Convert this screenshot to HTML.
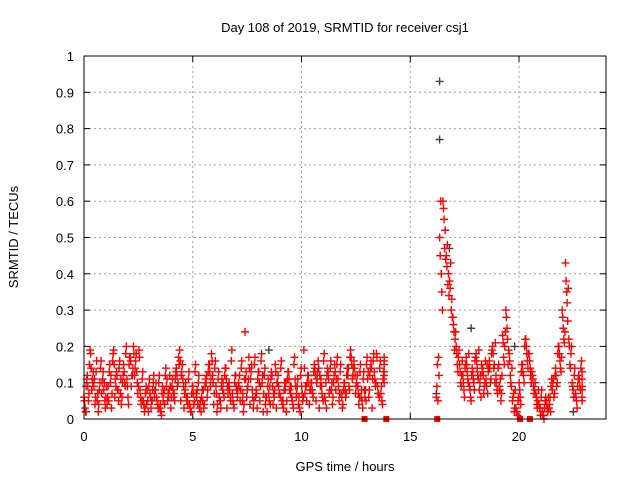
<!DOCTYPE html>
<html><head><meta charset="utf-8"><style>
html,body{margin:0;padding:0;background:#fff;}
svg{display:block;font-family:"Liberation Sans",sans-serif;}
</style></head><body>
<svg id="chart" width="640" height="480" viewBox="0 0 640 480">
<rect x="0" y="0" width="640" height="480" fill="#fff"/>
<text x="345" y="32" font-size="13" text-anchor="middle">Day 108 of 2019, SRMTID for receiver csj1</text>
<text transform="translate(18,237) rotate(-90)" font-size="13" text-anchor="middle">SRMTID / TECUs</text>
<text x="345" y="471" font-size="13" text-anchor="middle">GPS time / hours</text>
<g id="grid"></g>
<g id="ticks"></g>
<g id="marks"></g>
<rect x="84" y="56" width="522" height="363" fill="none" stroke="#000" stroke-width="1"/>
</svg>
<script>
const xTicks=[0,5,10,15,20];
const yTicks=[0,0.1,0.2,0.3,0.4,0.5,0.6,0.7,0.8,0.9,1];
const yTickLabels=["0","0.1","0.2","0.3","0.4","0.5","0.6","0.7","0.8","0.9","1"];
const seg1=[0,13.8];
const seg2=[16.2,22.9];
const redA1=[6,12,18,9,5,14,8,4,10,19,12,7,15,11,17,20,13,8,5,4,7,10,6,3,5,9,12,8,14,19,11,6,4,9,7,3,5,10,15,12,9,6,8,14,10,7,12,9,5,11,17,8,6,13,10,4,7,12,15,9,5,8,13,6,11,4,9,7,12,10,14,16,9,6,13,8,15,11,7,10,12,17,14,9,6,8,11,16,13,9,7,15];
const redB1=[3,5,8,4,2,7,5,9,3,6,8,4,10,6,9,12,7,4,2,5,3,6,4,2,8,5,3,7,9,5,3,6,2,4,8,5,3,6,9,4,2,5,7,3,6,4,8,5,2,6,4,3,7,5,2,6,9,4,3,7,5,2,8,4,6,3,5,9,4,7,5,3,6,10,7,4,8,5,3,6,9,11,7,4,5,8,6,3,9,7,5,10];
const redC1=[9,15,10,13,8,11,6,13,16,9,14,10,18,15,12,16,19,11,7,9,5,8,10,7,12,6,9,11,17,13,8,11,7,13,10,6,9,13,18,14,11,9,12,7,16,10,8,14,11,9,13,15,11,16,12,9,11,6,10,14,8,11,7,15,9,12,19,10,8,13,11,9,16,12,14,10,15,13,8,12,17,14,10,13,11,15,12,16,18,14,11,17];
const redD1=[5,9,14,11,7,16,10,6,12,15,8,11,13,9,16,18,10,6,4,8,6,12,5,4,7,11,9,6,12,16,9,5,3,7,6,4,8,12,13,10,7,5,10,11,8,5,9,12,7,13,14,6,8,10,12,6,5,9,13,7,4,10,11,5,9,6,7,9,10,8,12,14,7,5,11,10,13,9,6,8,14,15,12,7,8,6,13,14,11,7,9,13];
const redE1=[2,7,11,6,4,10,3,5,7,11,5,6,9,4,12,14,9,5,3,2,5,8,3,1,4,7,6,5,10,12,7,4,2,5,4,2,4,8,11,7,4,3,6,9,5,3,6,8,4,8,11,5,3,9,7,2,4,7,10,6,3,5,9,3,7,2,6,5,8,6,10,12,5,3,8,6,11,7,4,7,8,12,9,6,3,5,8,11,10,6,4,12];
const redF1=[11,19,13,16,10,13,9,15,18,13,16,12,20,17,14,18,17,13,9,11,8,10,12,9,14,8,11,13,15,15,10,13,9,15,12,8,11,15,16,16,13,11,14,9,19,12,10,16,24,11,15,17,13,18,14,11,13,8,12,16,10,13,9,17,11,14,14,12,10,15,13,11,18,14,16,12,17,15,10,14,19,16,12,15,13,17,14,18,17,16,13,16];
const redA2=[6,50,60,45,38,28,20,15,12,17,9,13,18,8,14,11,16,20,12,9,23,30,18,5,3,10,15,22,18,12,7,4,2,6,3,8,14,20,30,43,22,10,7,12,9];
const redB2=[15,60,55,48,43,24,15,10,8,13,6,10,14,12,7,15,10,14,8,11,17,25,12,7,2,6,12,18,14,9,4,3,1,4,6,11,9,16,25,35,15,8,5,9,6];
const redC2=[17,35,52,40,33,22,17,12,14,10,12,16,11,15,10,13,18,10,14,7,20,15,9,3,5,13,20,14,10,8,5,6,3,2,9,7,18,13,21,27,18,12,9,14,11];
const redD2=[9,45,58,42,36,26,18,13,10,15,8,11,16,10,12,9,14,18,10,8,21,28,16,6,2,8,13,20,16,11,6,3,1,5,4,10,12,18,28,38,20,9,6,11,8];
const redE2=[5,40,47,37,30,19,13,9,6,11,5,8,12,6,9,7,11,15,7,5,15,22,10,2,1,4,10,16,12,7,3,1,0,3,2,6,10,14,22,32,14,6,3,8,5];
const redF2=[12,30,44,34,28,24,19,16,15,18,14,17,19,13,16,14,19,21,15,12,24,19,14,8,6,15,22,18,13,10,8,8,5,6,11,12,20,17,24,36,20,14,11,16,13];
const grayT=[0.1,8.5,16.2,16.35,16.35,16.8,17.8,19.8,22.5];
const grayV=[0.02,0.19,0.07,0.93,0.77,0.47,0.25,0.2,0.02];
const zeroT=[12.9,13.9,16.24,20.05,20.5];
const NS='http://www.w3.org/2000/svg';
const X=t=>84+t*(522/24);
const Y=v=>419-v*363;
const grid=document.getElementById('grid'),ticks=document.getElementById('ticks'),marks=document.getElementById('marks');
function mk(tag,attrs,parent){const e=document.createElementNS(NS,tag);for(const k in attrs)e.setAttribute(k,attrs[k]);parent.appendChild(e);return e;}
yTicks.forEach((v,i)=>{
  if(i>0&&i<yTicks.length-1){const g=mk('line',{x1:84,x2:606,y1:Y(v),y2:Y(v),stroke:'#a0a0a0','stroke-dasharray':'2,3'},grid);
  
  }
  mk('line',{x1:84,x2:90,y1:Y(v),y2:Y(v),stroke:'#000'},ticks);
  mk('line',{x1:600,x2:606,y1:Y(v),y2:Y(v),stroke:'#000'},ticks);
  const t=mk('text',{x:74,y:Y(v)+5,'font-size':13,'text-anchor':'end'},ticks);t.textContent=yTickLabels[i];
  
  
});
xTicks.forEach(v=>{
  if(v>0){const g=mk('line',{x1:X(v),x2:X(v),y1:56,y2:419,stroke:'#a0a0a0','stroke-dasharray':'2,3'},grid);
  
  }
  mk('line',{x1:X(v),x2:X(v),y1:419,y2:413,stroke:'#000'},ticks);
  mk('line',{x1:X(v),x2:X(v),y1:56,y2:62,stroke:'#000'},ticks);
  const t=mk('text',{x:X(v),y:441,'font-size':13,'text-anchor':'middle'},ticks);t.textContent=String(v);
  
  
});
function plus(t,v,c){
  const x=X(t),y=Y(v);
  const p=mk('path',{d:`M${x-4},${y}H${x+4}M${x},${y-4}V${y+4}`,stroke:c,'stroke-width':1.4,fill:'none'},marks);
  
  
}
function series(arr,seg,off){
  const n=arr.length;
  arr.forEach((v,i)=>{let t=seg[0]+i*(seg[1]-seg[0])/(n-1)+off;if(t>seg[1])t=seg[1];plus(t,v/100,'#ff0000');});
}
grayT.forEach((t,i)=>plus(t,grayV[i],'#404040'));
series(redB1,seg1,0.05);series(redC1,seg1,0.1);series(redA1,seg1,0);
series(redD1,seg1,0.025);series(redE1,seg1,0.075);series(redF1,seg1,0.125);
series(redB2,seg2,0.05);series(redC2,seg2,0.1);series(redA2,seg2,0);
series(redD2,seg2,0.025);series(redE2,seg2,0.075);series(redF2,seg2,0.125);
zeroT.forEach(t=>{const r=mk('rect',{x:X(t)-3,y:416,width:6,height:6,fill:'#ff0000'},marks);

});
</script>
</body></html>
